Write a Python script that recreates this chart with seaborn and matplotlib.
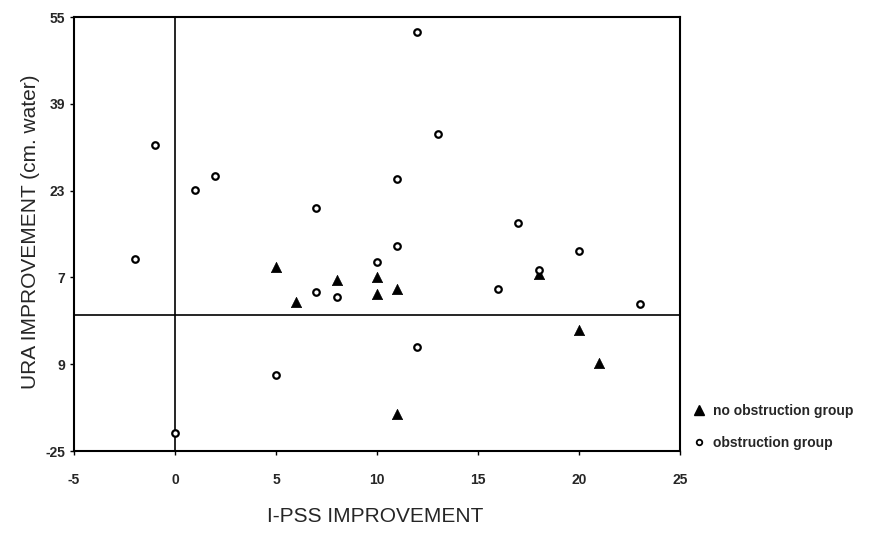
import numpy as np
import pandas as pd
import matplotlib
matplotlib.use("Agg")
import matplotlib.pyplot as plt
import seaborn as sns
from matplotlib.lines import Line2D

# I-PSS improvement (x) and URA improvement (y) for each group
no_obstruction_x = [5, 6, 8, 10, 10, 11, 11, 18, 20, 21]
no_obstruction_y = [9.0, 2.5, 6.5, 7.0, 3.9, 4.8, -18.1, 7.6, -2.6, -8.8]

obstruction_x = [-2, -1, 0, 1, 2, 5, 7, 7, 8, 10, 11, 11, 12, 12, 13, 16, 17, 18, 20, 23]
obstruction_y = [10.4, 31.4, -21.7, 23.2, 25.8, -10.9, 19.9, 4.4, 3.4, 9.9,
                 25.1, 12.8, 52.3, -5.8, 33.5, 4.8, 17.0, 8.4, 11.9, 2.2]

group_names = ["no obstruction group", "obstruction group"]

x_ticks = [-5, 0, 5, 10, 15, 20, 25]
y_ticks = [-25, -9, 7, 23, 39, 55]
y_tick_labels = ["-25", "9", "7", "23", "39", "55"]

df = pd.DataFrame({
    "ipss": no_obstruction_x + obstruction_x,
    "ura": no_obstruction_y + obstruction_y,
    "group": [group_names[0]] * len(no_obstruction_x) + [group_names[1]] * len(obstruction_x),
})

sns.set_style("white")
plt.rcParams["font.family"] = ["Liberation Sans", "DejaVu Sans"]

fig = plt.figure(figsize=(8.69, 5.38), dpi=100)
ax = fig.add_axes([0.0852, 0.1617, 0.6973, 0.8063])

# reference lines through the origin
ax.axvline(0, color="black", lw=1.2, zorder=1)
ax.axhline(0, color="black", lw=1.2, zorder=1)

obs = df[df["group"] == group_names[1]]
no_obs = df[df["group"] == group_names[0]]

sns.scatterplot(data=no_obs, x="ipss", y="ura", ax=ax, marker="^", s=55,
                color="black", edgecolor="black", linewidth=0.5,
                legend=False, zorder=3)
sns.scatterplot(data=obs, x="ipss", y="ura", ax=ax, marker="o", s=22,
                facecolor="white", edgecolor="black", linewidth=1.6,
                legend=False, zorder=4)

ax.set_xlim(-5, 25)
ax.set_ylim(-25, 55)
ax.set_xticks(x_ticks)
ax.set_xticklabels([str(t) for t in x_ticks], fontweight="bold", fontsize=10)
ax.set_yticks(y_ticks)
ax.set_yticklabels(y_tick_labels, fontweight="bold", fontsize=10)
ax.tick_params(axis="x", direction="out", length=3, width=1, pad=13, color="black")
ax.tick_params(axis="y", direction="out", length=3, width=1, pad=3.5, color="black")
ax.tick_params(bottom=True, left=True)

for sp in ax.spines.values():
    sp.set_color("black")
    sp.set_linewidth(1.5)

ax.set_xlabel("I-PSS IMPROVEMENT", fontsize=15)
ax.set_ylabel("URA IMPROVEMENT (cm. water)", fontsize=15)
ax.xaxis.set_label_coords(0.497, -0.150)
ax.xaxis.label.set_va("center")
ax.yaxis.set_label_coords(-0.0726, 0.505)
ax.yaxis.label.set_va("center")

handles = [
    Line2D([], [], marker="^", linestyle="none", color="black", markersize=6.5),
    Line2D([], [], marker="o", linestyle="none", markerfacecolor="white",
           markeredgecolor="black", markeredgewidth=1.3, markersize=4),
]
fig.legend(handles, group_names, loc="center left", bbox_to_anchor=(0.782, 0.206),
           frameon=False, prop={"weight": "bold", "size": 10},
           handletextpad=0.5, labelspacing=1.3, handlelength=1.0)

fig.savefig("out.png", dpi=100)
